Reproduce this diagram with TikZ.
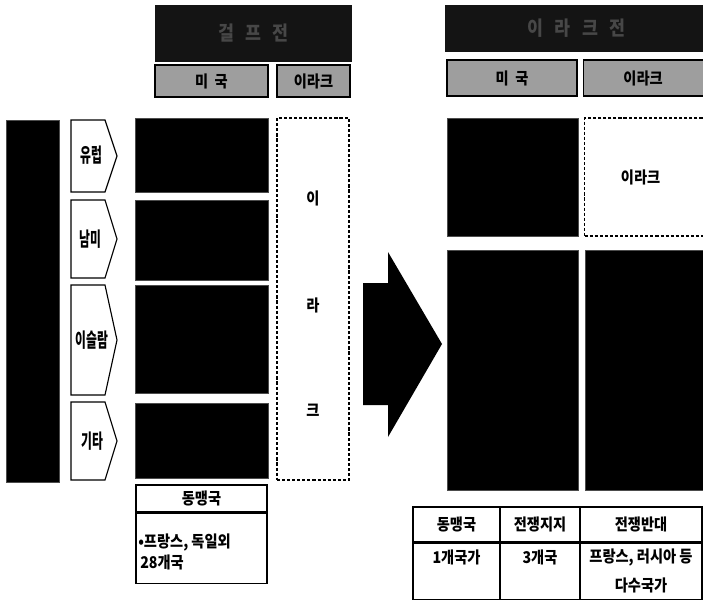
\documentclass[tikz,border=0pt]{standalone}
\usepackage{fontspec}
\newfontfamily\kr{Noto Sans CJK KR}[FakeStretch=0.88]
\newfontfamily\krnarrow{Noto Sans CJK KR}[FakeStretch=0.6]

\begin{document}
\begin{tikzpicture}[
        x=0.025cm, y=-0.025cm,
        font=\kr\bfseries\fontsize{11.5}{13}\selectfont,
        size/.style 2 args={
            minimum width=#1*0.025cm,
            minimum height=#2*0.025cm,
            inner sep=0pt
        },
        titlebox/.style={
            rectangle,
            fill=black!92,
            text=black!72,
            font=\kr\bfseries\fontsize{14}{16}\selectfont
        },
        headbox/.style={
            rectangle,
            draw,
            thick,
            fill=black!38
        },
        darkbox/.style={
            rectangle,
            fill=black,
            draw=black!70
        },
        regionbox/.style={
            draw,
            thick,
            fill=white,
            line join=miter
        },
        regiontext/.style={
            inner sep=0pt,
            font=\krnarrow\bfseries\fontsize{14}{16}\selectfont
        },
        dashbox/.style={
            rectangle,
            draw,
            thick,
            dash pattern=on 2.2pt off 1.4pt
        },
        cell/.style={
            rectangle,
            draw,
            thick,
            align=center
        },
        celltext/.style={
            inner sep=0pt
        }
    ]

        \clip (0,0) rectangle (703,599);

        \node[titlebox, size={197}{57}] (gulfTitle) at (253.5,33.5) {걸 \, 프 \, 전};
        \node[headbox, size={113}{32}] (gulfUS) at (211.5,81) {미 \ 국};
        \node[headbox, size={73}{32}] (gulfIraq) at (313.5,81) {이라크};

        \node[darkbox, size={53}{362}] (coalition) at (32.5,301) {};

        \draw[regionbox] (71,120) -- (105,120) -- (117,156) -- (105,192) -- (71,192) -- cycle;
        \draw[regionbox] (71,200) -- (105,200) -- (117,239) -- (105,278) -- (71,278) -- cycle;
        \draw[regionbox] (71,285) -- (105,285) -- (117,340) -- (105,395) -- (71,395) -- cycle;
        \draw[regionbox] (71,402) -- (105,402) -- (117,441) -- (105,480) -- (71,480) -- cycle;
        \node[regiontext] (europe) at (91,155) {유럽};
        \node[regiontext] (samerica) at (90,239) {남미};
        \node[regiontext] (islam) at (92,340) {이슬람};
        \node[regiontext] (others) at (92,441) {기타};

        \node[darkbox, size={133}{74}] (europeUS) at (201.5,155) {};
        \node[darkbox, size={133}{80}] (samericaUS) at (201.5,240) {};
        \node[darkbox, size={133}{108}] (islamUS) at (201.5,339) {};
        \node[darkbox, size={133}{75}] (othersUS) at (201.5,440.5) {};

        \node[dashbox, size={72}{362}] (gulfIraqCol) at (313,299) {};
        \node (iraqI) at (313,198) {이};
        \node (iraqRa) at (313,305) {라};
        \node (iraqK) at (313,410) {크};

        \node[cell, size={131}{27}] (gulfAllyHead) at (201.5,498.5) {동맹국};
        \node[cell, size={131}{70}, anchor=north] (gulfAlly) at (gulfAllyHead.south) {};
        \node[celltext, anchor=west] (gulfAllyA) at (138,542) {•프랑스, 독일외};
        \node[celltext, anchor=west] (gulfAllyB) at (140,562) {28개국};

        \fill (363,283) -- (388,283) -- (388,252) -- (442,344) -- (388,437) -- (388,405) -- (363,405) -- cycle;

        \node[titlebox, size={263}{47}] (iraqTitle) at (576.5,28.5) {이 \, 라 \, 크 \, 전};
        \node[headbox, size={130}{36}] (iraqUS) at (512,78) {미 \ 국};
        \node[headbox, size={127}{36}, anchor=west] (iraqIraq) at (583,78) {\hspace*{-0.2cm}이라크};

        \node[darkbox, size={131}{118}] (iraqUSTop) at (512.5,177) {};
        \node[dashbox, size={124}{118}, anchor=west] (iraqIraqTop) at (584,177) {\hspace*{-0.3cm}이라크};
        \node[darkbox, size={131}{240}] (iraqUSLow) at (512.5,370) {};
        \node[darkbox, size={125}{240}, anchor=west] (iraqIraqLow) at (585,370) {};

        \node[cell, size={87}{35}] (allyHead) at (456.5,524.5) {동맹국};
        \node[cell, size={80}{35}] (supportHead) at (540,524.5) {전쟁지지};
        \node[cell, size={122}{35}] (opposeHead) at (641,524.5) {전쟁반대};
        \node[cell, size={87}{56}, anchor=north] (ally) at (allyHead.south) {};
        \node[cell, size={80}{56}, anchor=north] (support) at (supportHead.south) {};
        \node[cell, size={122}{56}, anchor=north] (oppose) at (opposeHead.south) {};
        \node[celltext] (allyNum) at (456.5,557) {1개국가};
        \node[celltext] (supportNum) at (540,557) {3개국};
        \node[celltext] (opposeNumA) at (641,557) {프랑스, 러시아 등};
        \node[celltext] (opposeNumB) at (641,585) {다수국가};

    \end{tikzpicture}
\end{document}
